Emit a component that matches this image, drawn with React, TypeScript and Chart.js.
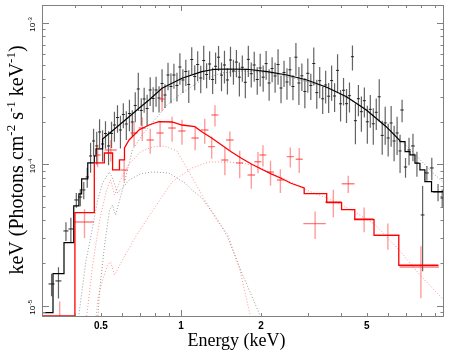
import React, { useEffect, useRef } from "react";
import { Chart, registerables } from "chart.js";

Chart.register(...registerables);

// Flux values are in units of 1e-4 keV (Photons cm^-2 s^-1 keV^-1)
const UNIT = 1e-4;
const BIN_HALF = 0.013; // fractional half width of the dense black bins

// ---------- black data (energy keV, flux, relative sigma) ----------
const blackE = [
  0.3259, 0.346, 0.3692, 0.3853, 0.4039, 0.4181, 0.4308, 0.444,
  0.457, 0.469, 0.482, 0.494, 0.507, 0.52, 0.534, 0.548, 0.562, 0.577,
  0.592, 0.607, 0.623, 0.64, 0.656, 0.673, 0.691, 0.709, 0.727, 0.746,
  0.766, 0.786, 0.806, 0.827, 0.849, 0.871, 0.894, 0.917, 0.941, 0.966,
  0.991, 1.017, 1.043, 1.07, 1.098, 1.127, 1.156, 1.187, 1.218, 1.249,
  1.282, 1.316, 1.35, 1.385, 1.421, 1.458, 1.496, 1.536, 1.576, 1.617,
  1.659, 1.702, 1.747, 1.793, 1.839, 1.887, 1.937, 1.987, 2.039, 2.092,
  2.147, 2.203, 2.261, 2.32, 2.38, 2.443, 2.506, 2.572, 2.639, 2.708,
  2.779, 2.851, 2.926, 3.002, 3.081, 3.161, 3.244, 3.328, 3.415, 3.504,
  3.596, 3.69, 3.786, 3.885, 3.987, 4.091, 4.198, 4.307, 4.42, 4.535,
  4.654, 4.775, 4.9, 5.028, 5.159, 5.294, 5.432, 5.574, 5.72, 5.869,
  6.023, 6.18, 6.341, 6.507, 6.677,
  6.794, 7.0, 7.215, 7.467, 7.728, 8.117, 8.423, 8.79, 9.279, 9.621,
];
const blackFlux = [
  0.1423, 0.1495, 0.3373, 0.3483, 0.5585, 0.5864, 0.6573, 0.8118,
  1.143, 1.459, 1.345, 1.689, 1.389, 1.648, 1.345, 1.648, 1.892, 2.138,
  1.745, 2.245, 1.923, 2.282, 1.987, 2.599, 3.4, 2.397, 2.889, 2.476,
  3.345, 2.913, 3.345, 2.937, 3.718, 3.083, 4.269, 3.541, 4.269, 3.599,
  4.863, 3.937, 4.52, 3.658, 5.494, 4.167, 5.066, 4.067, 5.405, 4.304,
  5.107, 3.968, 4.919, 5.705, 4.262, 5.024, 3.937, 5.45, 4.557, 5.267,
  4.12, 4.839, 3.791, 5.503, 4.361, 5.024, 3.968, 4.785, 4.12, 5.14,
  3.748, 4.746, 4.201, 5.066, 3.455, 4.447, 3.81, 4.647, 3.541, 5.705,
  3.748, 4.215, 3.265, 4.389, 3.605, 5.148, 3.207, 3.892, 2.899, 3.629,
  3.024, 3.898, 3.034, 4.602, 2.672, 3.329, 2.677, 3.049, 5.751, 2.03,
  2.903, 2.35, 2.811, 1.994, 2.443, 1.93, 2.327, 2.995, 1.598, 1.958,
  1.532, 1.955, 1.459, 1.662, 1.24,
  2.415, 0.955, 1.26, 1.345, 1.02, 0.4375, 0.867, 0.94, 0.636, 0.577,
];
const blackSigma = [
  0.18, 0.25, 0.15, 0.2, 0.12, 0.14, 0.14, 0.16,
  0.24, 0.22, 0.26, 0.23, 0.25, 0.22, 0.27, 0.21, 0.24, 0.22, 0.26, 0.2, 0.23, 0.25, 0.21, 0.24,
  0.3, 0.22, 0.2, 0.25, 0.23, 0.2, 0.24, 0.21, 0.26, 0.19, 0.22, 0.24, 0.2, 0.23, 0.25, 0.19,
  0.21, 0.26, 0.22, 0.2, 0.24, 0.22, 0.27, 0.2, 0.23,
  0.21, 0.25, 0.2, 0.23, 0.26, 0.21, 0.24, 0.2, 0.22, 0.27, 0.21, 0.23, 0.25, 0.2, 0.24,
  0.22, 0.26, 0.21, 0.23, 0.25, 0.2, 0.24, 0.28, 0.22, 0.21, 0.25, 0.23, 0.2, 0.26, 0.3,
  0.22, 0.24, 0.27, 0.21, 0.3, 0.23, 0.25, 0.22, 0.26, 0.24, 0.28, 0.23, 0.3, 0.25, 0.22,
  0.27, 0.24, 0.2, 0.32, 0.25, 0.28, 0.24, 0.3, 0.26, 0.29, 0.25, 0.33, 0.27, 0.3, 0.26,
  0.32, 0.28, 0.3, 0.3,
  0.18, 0.16, 0.22, 0.22, 0.2, 0.6, 0.12, 0.18, 0.14, 0.15,
];
const blackLowHalfWidth = [0.0085, 0.009, 0.008, 0.008, 0.007, 0.007, 0.006, 0.006];
const blackHighHalfWidth = [0.1, 0.1, 0.1, 0.12, 0.12, 0.13, 0.14, 0.15, 0.4, 0.15];

// ---------- red data ----------
const redE = [
  0.3497, 0.4335, 0.4859, 0.5447, 0.6112, 0.6661, 0.7152, 0.7663, 0.8348, 0.849,
  0.926, 1.009, 1.131, 1.229, 1.305, 1.343, 1.463, 1.528, 1.664, 1.84,
  1.949, 2.035, 2.173, 2.367, 2.58, 2.787, 3.198, 3.745, 4.262, 4.89, 6.007, 7.998,
];
const redFlux = [
  0.0792, 0.3905, 1.161, 1.26, 0.91, 1.662, 1.803, 1.483, 1.662, 2.889,
  1.803, 1.716, 1.532, 1.745, 1.33, 2.227, 1.071, 1.483, 1.02, 0.839,
  1.041, 1.161, 0.881, 0.773, 1.13, 1.083, 0.3798, 0.5405, 0.728, 0.412, 0.3145, 0.1877,
];
const redSigma = [
  0.35, 0.23, 0.18, 0.17, 0.17, 0.2, 0.19, 0.2, 0.2, 0.18,
  0.2, 0.2, 0.18, 0.2, 0.18, 0.17, 0.22, 0.15, 0.22, 0.2,
  0.17, 0.17, 0.2, 0.19, 0.16, 0.2, 0.22, 0.22, 0.14, 0.2, 0.21, 0.4,
];
const redHalfWidth = [
  0.01, 0.0365, 0.012, 0.0285, 0.02, 0.02, 0.022, 0.024, 0.026, 0.02,
  0.03, 0.032, 0.036, 0.04, 0.04, 0.04, 0.045, 0.05, 0.05, 0.06,
  0.06, 0.06, 0.065, 0.07, 0.08, 0.085, 0.31, 0.26, 0.236, 0.417, 0.64, 1.35,
];

// ---------- folded models (step vertices) ----------
const blackModelE = [
  0.3, 0.33, 0.33, 0.363, 0.363, 0.395, 0.395, 0.413, 0.413, 0.423, 0.423, 0.446, 0.446,
  0.472, 0.472, 0.479, 0.479, 0.507, 0.507, 0.586, 0.638, 0.695, 0.758, 0.849, 1.009,
  1.198, 1.339, 1.497, 1.778, 2.112, 2.507, 2.978, 3.536, 4.2, 4.986, 5.922, 6.637,
  6.677, 6.971, 6.971, 7.277, 7.277, 7.597, 7.597, 7.931, 7.931, 8.279, 8.279, 8.769, 8.769, 9.9,
];
const blackModelFlux = [
  0.0892, 0.0892, 0.1683, 0.1683, 0.2788, 0.2788, 0.5065, 0.5065, 0.616, 0.616, 0.786, 0.786, 1.02,
  1.02, 1.143, 1.143, 1.281, 1.281, 1.507, 1.892, 2.166, 2.484, 2.843, 3.439, 4.047,
  4.506, 4.686, 4.709, 4.686, 4.506, 4.27, 3.937, 3.495, 3.0, 2.415, 1.841, 1.483,
  1.442, 1.442, 1.226, 1.226, 1.162, 1.162, 1.015, 1.015, 0.91, 0.91, 0.752, 0.752, 0.639, 0.639,
];
const redModelE = [
  0.3, 0.399, 0.399, 0.472, 0.472, 0.515, 0.515, 0.553, 0.553, 0.587, 0.587, 0.613, 0.613,
  0.638, 0.695, 0.758, 0.826, 0.926, 1.009, 1.128, 1.198, 1.305, 1.422, 1.55, 1.689, 1.84,
  2.005, 2.185, 2.381, 2.595, 2.909, 2.909, 3.536, 3.536, 4.022, 4.022, 4.51, 4.51,
  5.328, 5.328, 6.603, 6.603, 9.311,
];
const redModelFlux = [
  0.0846, 0.0846, 0.454, 0.454, 1.02, 1.02, 1.2, 1.2, 0.91, 0.91, 1.071, 1.071, 1.302,
  1.483, 1.745, 1.892, 1.997, 1.987, 1.892, 1.841, 1.697, 1.532, 1.367, 1.219, 1.101, 1.003,
  0.925, 0.853, 0.795, 0.733, 0.679, 0.619, 0.619, 0.536, 0.536, 0.477, 0.477, 0.405,
  0.405, 0.314, 0.314, 0.193, 0.193,
];

// ---------- model components (dotted) ----------
const graySoftE = [0.3988, 0.4152, 0.4384, 0.4655, 0.4859, 0.5072, 0.5373, 0.5527, 0.577, 0.6024, 0.6381, 0.7031, 0.7795, 0.8997, 1.0349, 1.099, 1.1979, 1.3625, 1.497, 1.6889, 1.988, 2.1857];
const graySoftFlux = [0.0486, 0.0932, 0.2036, 0.3599, 0.5585, 0.7365, 0.8809, 0.799, 0.6257, 0.6788, 0.7732, 0.8525, 0.8809, 0.8665, 0.7365, 0.6572, 0.5769, 0.4166, 0.3058, 0.173, 0.0846, 0.0486];
const grayHardE = [0.4776, 0.4943, 0.516, 0.5386, 0.5527, 0.5672, 0.6024, 0.6566, 0.7153, 0.7795, 0.8867, 1.0086, 1.1979, 1.4223, 1.6889, 2.0053, 2.3818, 2.8282, 3.6597, 4.7358, 6.1294, 7.4665, 8.6438, 9.7454];
const grayHardFlux = [0.045, 0.1291, 0.2685, 0.4746, 0.5148, 0.4375, 0.6572, 1.26, 1.61, 1.955, 2.62, 3.185, 3.937, 4.411, 4.556, 4.483, 4.269, 3.937, 3.4, 2.578, 1.745, 1.219, 0.91, 0.7365];
const pinkSoftE = [0.4272, 0.4421, 0.4655, 0.4943, 0.5249, 0.5433, 0.5623, 0.5921, 0.6342, 0.7031, 0.7795, 0.864, 0.9663, 1.099, 1.229, 1.3625, 1.497, 1.66, 1.8248, 1.921];
const pinkSoftFlux = [0.045, 0.0846, 0.194, 0.4033, 0.6572, 0.7732, 0.6058, 0.7732, 0.987, 1.2194, 1.3229, 1.3446, 1.2399, 0.8119, 0.5585, 0.4033, 0.3211, 0.1847, 0.0846, 0.045];
const pinkHardE = [0.4655, 0.4859, 0.5072, 0.5295, 0.5433, 0.5623, 0.6024, 0.6738, 0.7998, 0.9256, 1.099, 1.272, 1.4842, 1.6889, 1.921, 2.1857, 2.5957, 2.9019, 3.536, 4.0226, 4.4978, 5.3422, 6.6222, 7.9306, 9.7454];
const pinkHardFlux = [0.045, 0.1097, 0.1519, 0.194, 0.2036, 0.1648, 0.2103, 0.3058, 0.4983, 0.7483, 0.94, 1.0364, 1.0364, 1.0197, 0.9712, 0.8665, 0.7483, 0.6678, 0.5769, 0.5148, 0.4595, 0.3779, 0.2475, 0.1648, 0.1097];

// ---------- axes ----------
const X_MIN = 0.308;
const X_MAX = 9.77;
const Y_MIN = 8.45e-6;
const Y_MAX = 1.334e-3;
const xMinorTicks = [0.4, 0.5, 0.6, 0.7, 0.8, 0.9, 2, 3, 4, 5, 6, 7, 8, 9];
const xMajorTicks = [1];
const xTickLabels = [0.5, 1, 2, 5];
const yMinorTicks = [9e-6, 2e-5, 3e-5, 4e-5, 5e-5, 6e-5, 7e-5, 8e-5, 9e-5, 2e-4, 3e-4, 4e-4, 5e-4, 6e-4, 7e-4, 8e-4, 9e-4];
const yMajorExponents = [-5, -4, -3];
const xTitle = "Energy (keV)";
const yTitleParts: [string, boolean][] = [
  ["keV (Photons cm", false], ["-2", true], [" s", false], ["-1", true], [" keV", false], ["-1", true], [")", false],
];

type P = { x: number; y: number | null };

function line(E: number[], F: number[]): P[] {
  const n = Math.min(E.length, F.length);
  const out: P[] = [];
  for (let i = 0; i < n; i++) out.push({ x: E[i], y: F[i] * UNIT });
  return out;
}
function vbars(E: number[], F: number[], S: number[]): P[] {
  const out: P[] = [];
  for (let i = 0; i < E.length; i++) {
    const y = F[i] * UNIT;
    out.push({ x: E[i], y: y * (1 - S[i]) }, { x: E[i], y: y * (1 + S[i]) }, { x: E[i], y: null });
  }
  return out;
}
function hbars(E: number[], F: number[], D: number[]): P[] {
  const out: P[] = [];
  for (let i = 0; i < E.length; i++) {
    const y = F[i] * UNIT;
    out.push({ x: E[i] - D[i], y }, { x: E[i] + D[i], y }, { x: E[i], y: null });
  }
  return out;
}

const FRAME = "#808080";

const frameAxes = {
  id: "frameAxes",
  afterDraw(chart: any) {
    const { ctx, chartArea: a, scales } = chart;
    const xs = scales.x;
    const ys = scales.y;
    ctx.save();
    ctx.strokeStyle = FRAME;
    ctx.lineWidth = 1;
    ctx.strokeRect(a.left + 0.5, a.top + 0.5, a.right - a.left - 1, a.bottom - a.top);
    const vt = (v: number, len: number) => {
      const px = Math.round(xs.getPixelForValue(v)) + 0.5;
      ctx.beginPath();
      ctx.moveTo(px, a.top);
      ctx.lineTo(px, a.top + len);
      ctx.moveTo(px, a.bottom);
      ctx.lineTo(px, a.bottom - len);
      ctx.stroke();
    };
    const ht = (v: number, len: number) => {
      const py = Math.round(ys.getPixelForValue(v)) + 0.5;
      ctx.beginPath();
      ctx.moveTo(a.left, py);
      ctx.lineTo(a.left + len, py);
      ctx.moveTo(a.right, py);
      ctx.lineTo(a.right - len, py);
      ctx.stroke();
    };
    xMinorTicks.forEach((v) => vt(v, 3));
    xMajorTicks.forEach((v) => vt(v, 6));
    yMinorTicks.forEach((v) => ht(v, 3.5));
    yMajorExponents.forEach((e) => ht(Math.pow(10, e), 7));

    // x tick labels
    ctx.fillStyle = "#000";
    ctx.font = "bold 10px 'Liberation Sans', Arial, sans-serif";
    ctx.textAlign = "center";
    ctx.textBaseline = "middle";
    xTickLabels.forEach((v) => {
      ctx.fillText(String(v), xs.getPixelForValue(v), a.bottom + 10);
    });

    // y tick labels (rotated, 10^n)
    yMajorExponents.forEach((e) => {
      const py = ys.getPixelForValue(Math.pow(10, e));
      ctx.save();
      ctx.translate(a.left - 7, py + 2);
      ctx.rotate(-Math.PI / 2);
      ctx.textBaseline = "alphabetic";
      ctx.textAlign = "left";
      const base = "8px 'Liberation Sans', Arial, sans-serif";
      const sup = "6px 'Liberation Sans', Arial, sans-serif";
      ctx.font = base;
      const w1 = ctx.measureText("10").width;
      ctx.font = sup;
      const w2 = ctx.measureText(String(e)).width;
      const x0 = -(w1 + w2) / 2;
      ctx.font = base;
      ctx.fillText("10", x0, 0);
      ctx.font = sup;
      ctx.fillText(String(e), x0 + w1 + 0.5, -3.5);
      ctx.restore();
    });

    // x title
    ctx.font = "18px 'Liberation Serif', 'Times New Roman', serif";
    ctx.textAlign = "center";
    ctx.textBaseline = "alphabetic";
    ctx.fillText(xTitle, (a.left + a.right) / 2 - 6.5, 346);

    // y title
    ctx.save();
    ctx.translate(22.5, 160);
    ctx.rotate(-Math.PI / 2);
    ctx.textAlign = "left";
    ctx.textBaseline = "alphabetic";
    const bf = "20px 'Liberation Serif', 'Times New Roman', serif";
    const sf = "13px 'Liberation Serif', 'Times New Roman', serif";
    let total = 0;
    yTitleParts.forEach(([t, s]) => {
      ctx.font = s ? sf : bf;
      total += ctx.measureText(t).width;
    });
    let cx = -total / 2;
    yTitleParts.forEach(([t, s]) => {
      ctx.font = s ? sf : bf;
      ctx.fillText(t, cx, s ? -8 : 0);
      cx += ctx.measureText(t).width;
    });
    ctx.restore();
    ctx.restore();
  },
};

export default function App() {
  const ref = useRef<HTMLCanvasElement>(null);
  useEffect(() => {
    const nLow = blackLowHalfWidth.length;
    const nHigh = blackHighHalfWidth.length;
    const blackHalf = blackE.map((e, i) =>
      i < nLow ? blackLowHalfWidth[i] : i >= blackE.length - nHigh ? blackHighHalfWidth[i - (blackE.length - nHigh)] : e * BIN_HALF
    );
    const common = { showLine: true, pointRadius: 0, pointHoverRadius: 0, fill: false, tension: 0, spanGaps: false };
    const chart = new Chart(ref.current as HTMLCanvasElement, {
      type: "scatter",
      data: {
        datasets: [
          { ...common, data: line(redModelE, redModelFlux), borderColor: "#ff0000", borderWidth: 1.3, order: 1 },
          { ...common, data: hbars(redE, redFlux, redHalfWidth), borderColor: "rgba(255,40,40,0.6)", borderWidth: 1.4, order: 2 },
          { ...common, data: vbars(redE, redFlux, redSigma), borderColor: "rgba(255,60,60,0.5)", borderWidth: 1.4, order: 3 },
          { ...common, data: line(blackModelE, blackModelFlux), borderColor: "#000000", borderWidth: 1.2, order: 4 },
          { ...common, data: hbars(blackE, blackFlux, blackHalf), borderColor: "#222222", borderWidth: 1, order: 5 },
          { ...common, data: vbars(blackE, blackFlux, blackSigma), borderColor: "rgba(60,60,60,0.8)", borderWidth: 1.2, order: 6 },
          { ...common, data: line(pinkSoftE, pinkSoftFlux), borderColor: "rgba(255,60,60,0.55)", borderWidth: 1, borderDash: [1, 2], order: 7 },
          { ...common, data: line(pinkHardE, pinkHardFlux), borderColor: "rgba(255,60,60,0.55)", borderWidth: 1, borderDash: [1, 2], order: 8 },
          { ...common, data: line(graySoftE, graySoftFlux), borderColor: "rgba(90,90,90,0.6)", borderWidth: 1, borderDash: [1, 2], order: 9 },
          { ...common, data: line(grayHardE, grayHardFlux), borderColor: "rgba(90,90,90,0.6)", borderWidth: 1, borderDash: [1, 2], order: 10 },
        ],
      },
      options: {
        responsive: false,
        maintainAspectRatio: false,
        devicePixelRatio: 1,
        animation: false,
        events: [],
        layout: { padding: { left: 42, right: 8, top: 5, bottom: 38 } },
        plugins: { legend: { display: false }, tooltip: { enabled: false } },
        scales: {
          x: { type: "logarithmic", min: X_MIN, max: X_MAX, display: false },
          y: { type: "logarithmic", min: Y_MIN, max: Y_MAX, display: false },
        },
      },
      plugins: [frameAxes],
    } as any);
    return () => chart.destroy();
  }, []);
  return (
    <div style={{ position: "fixed", left: 0, top: 0, width: 452, height: 354, background: "#fff" }}>
      <canvas ref={ref} width={452} height={354} style={{ display: "block", width: 452, height: 354 }} />
    </div>
  );
}
